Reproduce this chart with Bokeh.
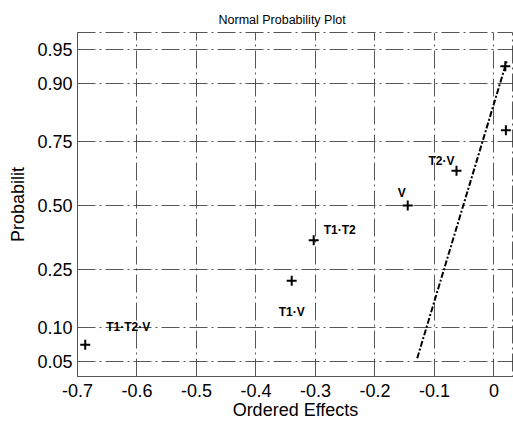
import math
from bokeh.plotting import figure
from bokeh.models import FixedTicker, Range1d, ColumnDataSource
from bokeh.core.properties import value
from bokeh.embed import file_html
from bokeh.resources import INLINE

# ---- data ----
effect_names = ["T1·T2·V", "T1·V", "T1·T2", "V", "T2·V", "", ""]
effects = [-0.687, -0.340, -0.303, -0.145, -0.063, 0.020, 0.019]
probs = [0.0714, 0.2143, 0.3571, 0.5000, 0.6429, 0.7857, 0.9286]

ref_line_x = [-0.129, 0.022]
ref_line_p = [0.054, 0.937]

x_ticks = [-0.7, -0.6, -0.5, -0.4, -0.3, -0.2, -0.1, 0.0]
x_tick_labels = ["-0.7", "-0.6", "-0.5", "-0.4", "-0.3", "-0.2", "-0.1", "0"]
p_ticks = [0.05, 0.10, 0.25, 0.50, 0.75, 0.90, 0.95]
p_tick_labels = ["0.05", "0.10", "0.25", "0.50", "0.75", "0.90", "0.95"]

# label offsets (pixels) for the point annotations
label_dx = [43, 0, 26, -6, -15, 0, 0]
label_dy = [-18, 31, -10, -12, -10, 0, 0]


def norm_ppf(p):
    lo, hi = -10.0, 10.0
    for _ in range(200):
        mid = (lo + hi) / 2
        if 0.5 * (1 + math.erf(mid / math.sqrt(2))) < p:
            lo = mid
        else:
            hi = mid
    return (lo + hi) / 2


z = [norm_ppf(p) for p in probs]
z_ticks = [norm_ppf(p) for p in p_ticks]
line_z = [norm_ppf(p) for p in ref_line_p]

FONT = "Liberation Sans"

p = figure(width=513, height=425, output_backend="svg", toolbar_location=None,
           x_range=Range1d(-0.7, 0.0328), y_range=Range1d(-1.80, 1.82),
           min_border_left=77, min_border_right=0, min_border_top=32,
           min_border_bottom=49)
p.title.text = "Normal Probability Plot"
p.title.text_font = FONT
p.title.text_font_size = "12.5px"
p.title.text_font_style = "normal"
p.title.text_color = "black"
p.title.align = "left"
p.title.offset = 141
p.title.standoff = 12

p.xaxis.ticker = FixedTicker(ticks=x_ticks)
p.xaxis.major_label_overrides = {t: l for t, l in zip(x_ticks, x_tick_labels)}
p.yaxis.ticker = FixedTicker(ticks=z_ticks)
p.yaxis.major_label_overrides = {t: l for t, l in zip(z_ticks, p_tick_labels)}

p.xaxis.axis_label = "Ordered Effects"
p.yaxis.axis_label = "Probabilit"
for ax in (p.xaxis[0], p.yaxis[0]):
    ax.axis_label_text_font = FONT
    ax.axis_label_text_font_size = "18px"
    ax.axis_label_text_font_style = "normal"
    ax.axis_label_text_color = "black"
    ax.major_label_text_font = FONT
    ax.major_label_text_font_size = "18px"
    ax.major_label_text_color = "black"
    ax.major_tick_line_color = None
    ax.minor_tick_line_color = None
    ax.major_tick_out = 0
    ax.major_tick_in = 0
    ax.axis_line_color = "#555555"
    ax.axis_line_width = 1
p.xaxis.major_label_standoff = 7
p.xaxis.axis_label_standoff = 0
p.yaxis.major_label_standoff = 5
p.yaxis.axis_label_standoff = 6

p.xgrid.ticker = FixedTicker(ticks=x_ticks)
p.ygrid.ticker = FixedTicker(ticks=z_ticks)
for g in (p.xgrid[0], p.ygrid[0]):
    g.grid_line_color = "#3a3a3a"
    g.grid_line_dash = "18 4 2 4"
    g.grid_line_width = 1
    g.grid_line_alpha = 0.85

p.outline_line_color = "#555555"
p.outline_line_dash = "18 4 2 4"
p.background_fill_color = "white"
p.border_fill_color = "white"

# reference line
p.line(ref_line_x, line_z, line_color="black", line_width=2, line_dash="6 2 2 2")

src = ColumnDataSource(dict(x=effects, y=z, name=effect_names, dx=label_dx, dy=label_dy))
p.scatter("x", "y", source=src, marker="cross", size=10, line_color="black", line_width=2)
p.text("x", "y", text="name", source=src, x_offset="dx", y_offset="dy",
       text_font=value(FONT), text_font_size="12px", text_font_style="bold",
       text_align="center", text_baseline="middle", text_color="black")

open("out.html", "w").write(file_html(p, INLINE))
